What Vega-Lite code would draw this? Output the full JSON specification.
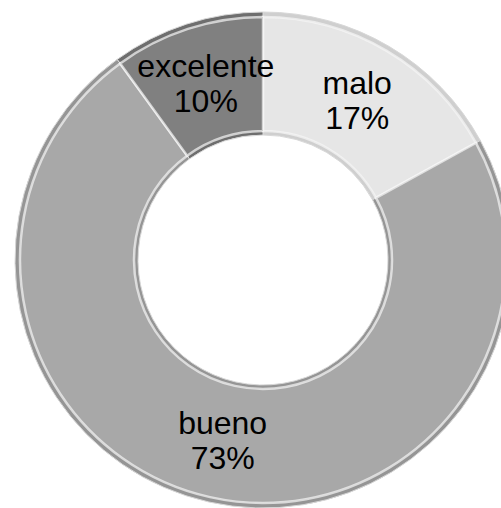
{
  "$schema": "https://vega.github.io/schema/vega-lite/v6.json",
  "width": 490,
  "height": 490,
  "padding": {"left": 13, "top": 10, "right": 0, "bottom": 0},
  "background": "white",
  "data": {
    "values": [
      {"cat": "malo", "pct": 17, "order": 1},
      {"cat": "bueno", "pct": 73, "order": 2},
      {"cat": "excelente", "pct": 10, "order": 3}
    ]
  },
  "transform": [
    {"calculate": "datum.cat + '\\n' + datum.pct + '%'", "as": "label"}
  ],
  "encoding": {
    "theta": {"field": "pct", "type": "quantitative", "stack": true},
    "order": {"field": "order", "type": "quantitative"}
  },
  "layer": [
    {
      "mark": {"type": "arc", "outerRadius": 248, "innerRadius": 125, "stroke": "#d8d8d8", "strokeWidth": 1},
      "encoding": {
        "color": {
          "field": "cat", "type": "nominal", "legend": null,
          "scale": {"domain": ["malo", "bueno", "excelente"], "range": ["#cfcfcf", "#959595", "#6e6e6e"]}
        }
      }
    },
    {
      "mark": {"type": "arc", "outerRadius": 243, "innerRadius": 129, "stroke": "#f6f6f6", "strokeWidth": 2.5, "strokeOpacity": 0.7},
      "encoding": {
        "color": {
          "field": "cat", "type": "nominal", "legend": null,
          "scale": {"domain": ["malo", "bueno", "excelente"], "range": ["#e6e6e6", "#a8a8a8", "#808080"]}
        }
      }
    },
    {
      "mark": {"type": "text", "radius": 185, "dy": -17, "fontSize": 32, "font": "Liberation Sans", "lineBreak": "\n", "lineHeight": 35, "color": "#000000", "baseline": "middle", "align": "center"},
      "encoding": {
        "text": {"field": "label", "type": "nominal"}
      }
    }
  ],
  "resolve": {"scale": {"color": "independent"}},
  "config": {"view": {"stroke": null}}
}
